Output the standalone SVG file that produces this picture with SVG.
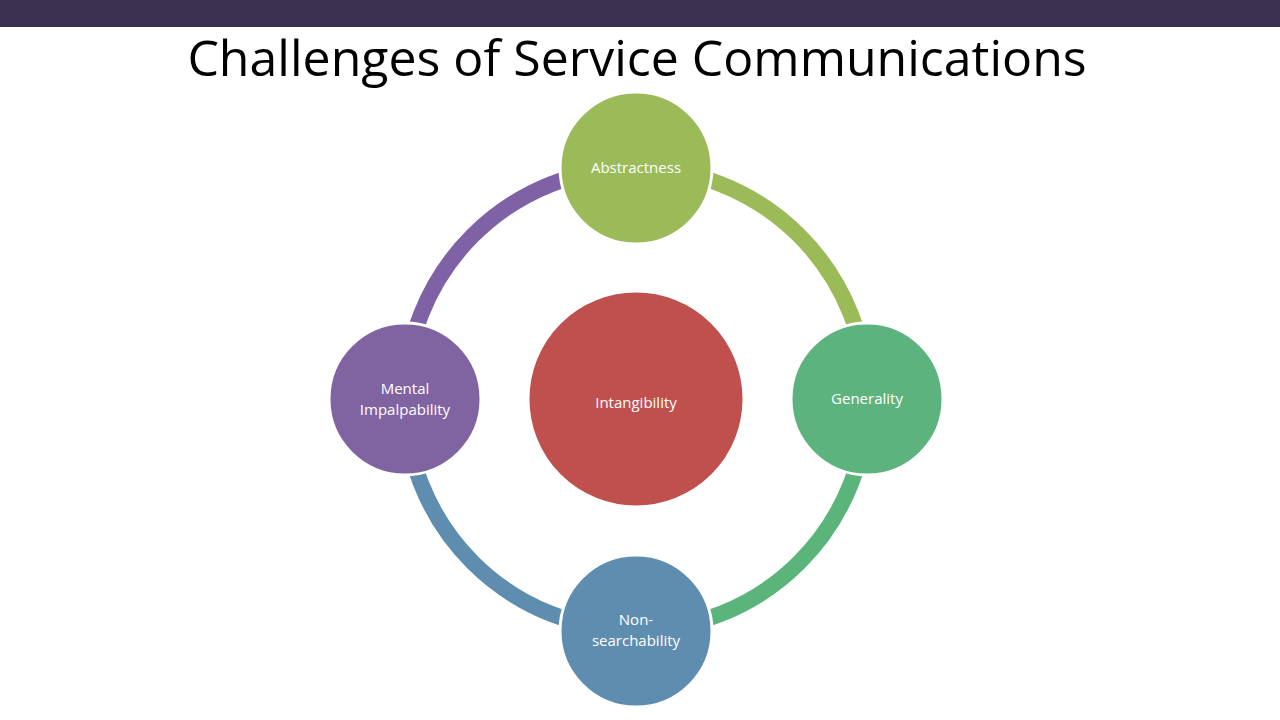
<svg xmlns="http://www.w3.org/2000/svg" width="1280" height="720" viewBox="0 0 1280 720">
<style>
.arc{fill:none;stroke-width:16}
.n{stroke:#fff;stroke-width:3}
.t{font-family:"Open Sans","Liberation Sans",sans-serif;fill:#fff;font-size:15px;text-anchor:middle}
</style>
<rect width="1280" height="720" fill="#fff"/>
<rect width="1280" height="27" fill="#3b3050"/>
<text x="637" y="76" font-family="Open Sans, Liberation Sans, sans-serif" font-size="50" text-anchor="middle" fill="#000">Challenges of Service Communications</text>
<g id="connectors">
<path class="arc" stroke="#9bbb59" d="M636 168 A231 231 0 0 1 867 399"/>
<path class="arc" stroke="#5bb57a" d="M867 399 A231 231 0 0 1 636 630"/>
<path class="arc" stroke="#5f8db0" d="M636 630 A231 231 0 0 1 405 399"/>
<path class="arc" stroke="#7f62a5" d="M405 399 A231 231 0 0 1 636 168"/>
</g>
<g id="center"><circle class="n" cx="636" cy="399" r="108" fill="#c0504d"/><text class="t" x="636" y="408" font-size="25">Intangibility</text></g>
<g id="abstractness"><circle class="n" cx="636" cy="168" r="76" fill="#9bbb59"/><text class="t" x="636" y="173">Abstractness</text></g>
<g id="generality"><circle class="n" cx="867" cy="399" r="76" fill="#5db37e"/><text class="t" x="867" y="404">Generality</text></g>
<g id="nonsearch"><circle class="n" cx="636" cy="631" r="76" fill="#5f8db0"/><text class="t" x="636" y="625">Non-</text><text class="t" x="636" y="646">searchability</text></g>
<g id="mental"><circle class="n" cx="405" cy="399" r="76" fill="#8064a2"/><text class="t" x="405" y="394">Mental</text><text class="t" x="405" y="415">Impalpability</text></g>
</svg>
